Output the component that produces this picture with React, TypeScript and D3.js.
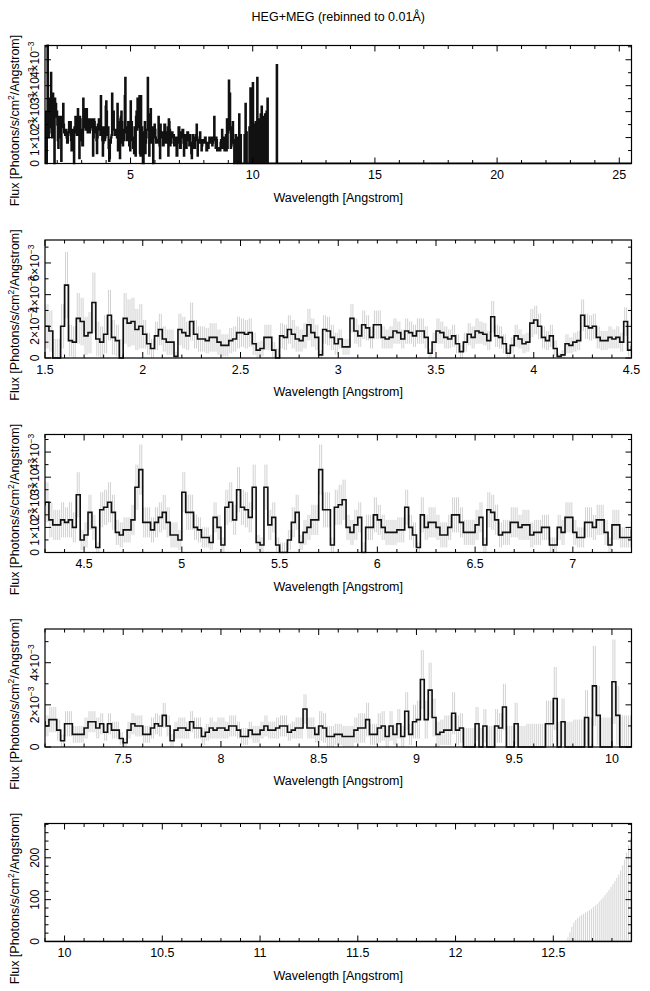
import React from "react";
import * as d3 from "d3";

// ---------------- data ----------------
const TITLE = "HEG+MEG (rebinned to 0.01Å)";
const X_TITLE = "Wavelength [Angstrom]";

const BIN_START = 1.5; // Å, left edge of first bin
const BIN_WIDTH = 0.02; // Å
const SUB_BINS = 2; // each 0.02 Å bin holds two 0.01 Å channels (error bars drawn per channel)
const FLUX_UNIT = 1e-4; // photons/s/cm²/Å per array unit

// flux per bin (units of 1e-4), 1.50 … 10.98 Å
const FLUX = [
  20, 17, 0, 0, 20, 46, 11, 10, 25, 23, 14, 16, 35, 12, 10, 15, 27, 13, 11, 0,
  25, 22, 23, 18, 20, 15, 9, 6, 14, 18, 12, 10, 10, 1, 18, 16, 14, 23, 15, 12,
  12, 11, 13, 13, 10, 8, 8, 11, 12, 16, 16, 15, 16, 9, 5, 6, 13, 13, 5, 0,
  14, 13, 18, 15, 12, 11, 14, 21, 16, 13, 2, 18, 17, 13, 9, 12, 7, 7, 25, 17,
  14, 21, 19, 13, 21, 21, 13, 12, 13, 17, 16, 12, 17, 16, 14, 17, 17, 13, 3, 10,
  17, 16, 13, 12, 14, 9, 4, 10, 15, 13, 17, 16, 15, 11, 26, 14, 13, 9, 3, 8,
  14, 12, 9, 10, 22, 24, 20, 13, 11, 14, 6, 1, 2, 9, 8, 10, 11, 27, 20, 19,
  20, 13, 11, 11, 13, 12, 13, 10, 23, 5, 7, 16, 10, 2, 17, 18, 20, 16, 8, 7,
  9, 9, 13, 26, 33, 12, 12, 9, 12, 14, 16, 12, 7, 7, 5, 24, 16, 16, 10, 9,
  6, 6, 4, 14, 10, 3, 18, 20, 13, 25, 18, 17, 14, 26, 4, 3, 26, 11, 14, 3,
  0, 0, 5, 12, 16, 4, 8, 10, 13, 13, 33, 17, 17, 3, 18, 19, 21, 10, 8, 11,
  14, 0, 10, 10, 15, 13, 10, 8, 8, 8, 9, 9, 18, 10, 7, 2, 15, 10, 12, 12,
  10, 7, 7, 10, 15, 15, 12, 8, 8, 8, 11, 14, 3, 17, 16, 13, 7, 8, 8, 12,
  12, 10, 11, 11, 7, 8, 8, 10, 10, 3, 3, 10, 8, 14, 14, 8, 6, 6, 12, 12,
  10, 13, 13, 8, 3, 11, 11, 6, 6, 6, 9, 12, 12, 9, 11, 7, 11, 8, 8, 4,
  2, 8, 11, 10, 10, 6, 6, 9, 11, 10, 15, 10, 3, 8, 9, 9, 8, 12, 9, 9,
  5, 7, 9, 8, 9, 9, 8, 10, 10, 8, 5, 5, 8, 6, 6, 8, 10, 8, 8, 9,
  10, 10, 7, 8, 9, 9, 18, 9, 9, 6, 10, 9, 5, 5, 6, 6, 5, 5, 5, 8,
  9, 9, 13, 6, 6, 9, 10, 5, 10, 6, 11, 5, 17, 6, 12, 13, 32, 13, 27, 14,
  6, 7, 8, 8, 16, 8, 9, 0, 0, 0, 11, 0, 10, 0, 0, 10, 9, 19, 0, 0,
  11, 0, 0, 0, 0, 0, 0, 0, 11, 11, 23, 0, 12, 0, 0, 0, 0, 0, 14, 0,
  29, 15, 0, 0, 0, 31, 15, 0, 0, 0, 0, 16, 0, 0, 33, 16, 0, 0, 17, 0,
  0, 19, 0, 22, 0, 0, 18, 0, 0, 0, 19, 0, 0, 20, 0, 25, 0, 0, 0, 0,
  0, 0, 0, 0, 0, 0, 0, 0, 0, 0, 0, 0, 0, 0, 38,
];

// 1-sigma error per bin (units of 1e-4)
const FLUX_ERR = [
  14, 13, 12, 12, 14, 21, 10, 10, 16, 15, 12, 13, 19, 11, 10, 12, 16, 11, 10, 12,
  16, 15, 15, 13, 14, 9, 7, 6, 9, 10, 8, 8, 8, 3, 10, 10, 9, 12, 9, 8,
  8, 8, 9, 9, 8, 7, 7, 8, 8, 10, 9, 9, 9, 7, 5, 5, 8, 8, 5, 6,
  8, 8, 9, 9, 8, 7, 8, 10, 9, 8, 3, 9, 9, 8, 7, 6, 5, 5, 9, 8,
  7, 9, 8, 7, 9, 9, 7, 6, 7, 8, 7, 6, 8, 7, 7, 8, 8, 7, 3, 6,
  8, 7, 7, 6, 7, 6, 4, 6, 7, 7, 8, 7, 7, 6, 10, 7, 7, 6, 3, 5,
  7, 6, 6, 6, 9, 9, 8, 7, 6, 7, 5, 2, 3, 6, 5, 6, 6, 10, 8, 8,
  8, 7, 6, 6, 7, 6, 7, 6, 9, 4, 5, 7, 5, 2, 7, 7, 8, 7, 5, 5,
  5, 5, 6, 9, 10, 6, 6, 5, 6, 6, 7, 6, 5, 5, 4, 8, 7, 7, 5, 5,
  4, 4, 3, 6, 5, 3, 7, 8, 6, 9, 7, 7, 6, 9, 3, 3, 9, 6, 6, 3,
  4, 4, 4, 6, 7, 3, 5, 5, 6, 6, 10, 7, 7, 3, 7, 8, 8, 5, 5, 6,
  6, 4, 5, 5, 7, 6, 5, 5, 5, 5, 5, 5, 7, 5, 5, 2, 7, 5, 6, 6,
  5, 5, 5, 5, 7, 7, 6, 5, 5, 5, 6, 6, 3, 7, 7, 6, 5, 5, 5, 6,
  6, 5, 6, 6, 5, 5, 5, 5, 5, 3, 3, 5, 5, 6, 6, 5, 4, 4, 6, 6,
  5, 6, 6, 5, 3, 6, 6, 4, 4, 4, 5, 5, 5, 5, 5, 4, 5, 4, 4, 3,
  2, 4, 5, 5, 5, 4, 4, 5, 5, 5, 6, 5, 3, 4, 5, 5, 4, 5, 5, 5,
  4, 4, 5, 4, 5, 5, 4, 5, 5, 4, 4, 4, 4, 4, 4, 4, 5, 4, 4, 5,
  5, 5, 4, 4, 5, 5, 7, 5, 5, 4, 7, 7, 5, 5, 5, 5, 5, 5, 5, 6,
  7, 7, 8, 5, 5, 7, 7, 5, 7, 5, 7, 5, 9, 5, 8, 9, 14, 9, 13, 9,
  6, 6, 7, 7, 10, 7, 7, 9, 9, 9, 8, 9, 8, 10, 10, 8, 7, 11, 10, 10,
  10, 10, 10, 11, 11, 11, 11, 11, 11, 11, 15, 12, 11, 12, 12, 13, 13, 13, 13, 14,
  19, 14, 14, 14, 14, 20, 14, 15, 15, 15, 15, 15, 15, 15, 21, 15, 15, 15, 15, 15,
  15, 16, 15, 17, 15, 15, 16, 15, 15, 15, 16, 15, 15, 17, 15, 18, 15, 15, 15, 15,
  15, 15, 15, 15, 15, 15, 15, 15, 15, 15, 15, 15, 15, 15, 22,
];

const ZERO_FLUX_END = 25.5; // flux is zero from the last bin to here
// long-wavelength channels (zero flux) with very large errors, photons/s/cm²/Å
const TAIL_ERR_START = 12.56;
const TAIL_BIN_WIDTH = 0.01;
const TAIL_ERR = [
  3, 10, 22, 35, 45, 52, 56, 60, 63, 66, 69, 72, 75, 78, 82, 86, 90,
  95, 100, 105, 111, 117, 123, 130, 137, 144, 152, 160, 170, 182, 196, 212, 230, 248,
];

// panel settings
const PANEL_X_DOMAINS = [
  [1.5, 25.5],
  [1.5, 4.5],
  [4.3, 7.3],
  [7.1, 10.1],
  [9.9, 12.9],
];
const PANEL_Y_MAX = [4.55e-3, 7.45e-3, 4.7e-3, 5.6e-3, 282];
const PANEL_X_MINOR = [1, 0.1, 0.1, 0.1, 0.1];
const PANEL_X_MAJOR = [5, 0.5, 0.5, 0.5, 0.5];
const PANEL_Y_MINOR = [0.5e-3, 1e-3, 0.5e-3, 1e-3, 20];
const PANEL_Y_MAJOR = [1e-3, 2e-3, 1e-3, 2e-3, 100];
const PANEL_Y_SCI = [true, true, true, true, false];
const PANEL_SHOW_ERR = [false, true, true, true, true];

// ---------------- layout ----------------
const W = 650;
const H = 991;
const LEFT = 45;
const RIGHT = 631.5;
const TOP0 = 45.5;
const STEP = 194.5;
const PH = 118;
const FONT = "'Liberation Sans', Arial, Helvetica, sans-serif";
const MAJOR_LEN = 6;
const MINOR_LEN = 3.5;

function stepTicks(d0: number, d1: number, step: number): number[] {
  const k0 = Math.ceil(d0 / step - 1e-6);
  const k1 = Math.floor(d1 / step + 1e-6);
  return d3.range(k0, k1 + 1).map((k) => +(k * step).toPrecision(12));
}
const isMajor = (v: number, m: number) => Math.abs(v / m - Math.round(v / m)) < 1e-6;

export default function App() {
  const hist = FLUX.map((f, i) => ({ x: BIN_START + i * BIN_WIDTH, y: f * FLUX_UNIT }));
  hist.push({ x: BIN_START + FLUX.length * BIN_WIDTH, y: 0 });
  hist.push({ x: ZERO_FLUX_END, y: 0 });

  const errs: { x: number; lo: number; hi: number }[] = [];
  FLUX.forEach((f, i) => {
    for (let s = 0; s < SUB_BINS; s++) {
      errs.push({
        x: BIN_START + (i + (s + 0.5) / SUB_BINS) * BIN_WIDTH,
        lo: Math.max(0, f - FLUX_ERR[i]) * FLUX_UNIT,
        hi: (f + FLUX_ERR[i]) * FLUX_UNIT,
      });
    }
  });
  TAIL_ERR.forEach((e, k) =>
    errs.push({ x: TAIL_ERR_START + (k + 0.5) * TAIL_BIN_WIDTH, lo: 0, hi: e })
  );

  const cx = (LEFT + RIGHT) / 2;

  return (
    <svg
      width={W}
      height={H}
      viewBox={`0 0 ${W} ${H}`}
      style={{ position: "absolute", left: 0, top: 0, background: "#fff", display: "block" }}
      fontFamily={FONT}
    >
      <rect x={0} y={0} width={W} height={H} fill="#fff" />
      <text x={cx} y={21} textAnchor="middle" fontSize={12.5} fill="#000">
        {TITLE}
      </text>
      {PANEL_X_DOMAINS.map((dom, p) => {
        const top = TOP0 + p * STEP;
        const bottom = top + PH;
        const xs = d3.scaleLinear().domain(dom).range([LEFT, RIGHT]);
        const ys = d3.scaleLinear().domain([0, PANEL_Y_MAX[p]]).range([bottom, top]);
        const line = d3
          .line<{ x: number; y: number }>()
          .x((d) => xs(d.x))
          .y((d) => ys(d.y))
          .curve(d3.curveStepAfter);
        const xt = stepTicks(dom[0], dom[1], PANEL_X_MINOR[p]);
        const yt = stepTicks(0, PANEL_Y_MAX[p], PANEL_Y_MINOR[p]);
        const clipId = `clip${p}`;
        const visErr = PANEL_SHOW_ERR[p]
          ? errs.filter((e) => e.x >= dom[0] && e.x <= dom[1])
          : [];
        const midY = (top + bottom) / 2 + 16;
        return (
          <g key={p}>
            <defs>
              <clipPath id={clipId}>
                <rect x={LEFT} y={top - 1} width={RIGHT - LEFT} height={PH + 2} />
              </clipPath>
            </defs>
            <g clipPath={`url(#${clipId})`}>
              {visErr.map((e, i) => (
                <line
                  key={i}
                  x1={xs(e.x)}
                  x2={xs(e.x)}
                  y1={ys(e.lo)}
                  y2={ys(e.hi)}
                  stroke="#c6c6c6"
                  strokeWidth={0.8}
                />
              ))}
              <path
                d={line(hist) || ""}
                fill="none"
                stroke="#111"
                strokeWidth={p === 0 ? 2.1 : 1.6}
              />
            </g>
            <rect
              x={LEFT}
              y={top}
              width={RIGHT - LEFT}
              height={PH}
              fill="none"
              stroke="#000"
              strokeWidth={1.2}
            />
            {xt.map((v) => {
              const x = xs(v);
              const len = isMajor(v, PANEL_X_MAJOR[p]) ? MAJOR_LEN : MINOR_LEN;
              return (
                <g key={`x${v}`}>
                  <line x1={x} x2={x} y1={bottom} y2={bottom - len} stroke="#000" strokeWidth={1} />
                  <line x1={x} x2={x} y1={top} y2={top + len} stroke="#000" strokeWidth={1} />
                </g>
              );
            })}
            {xt
              .filter((v) => isMajor(v, PANEL_X_MAJOR[p]))
              .map((v) => (
                <text
                  key={`xl${v}`}
                  x={xs(v)}
                  y={bottom + 15.5}
                  textAnchor="middle"
                  fontSize={12.5}
                  fill="#000"
                >
                  {String(v)}
                </text>
              ))}
            {yt.map((v) => {
              const y = ys(v);
              const len = isMajor(v, PANEL_Y_MAJOR[p]) ? MAJOR_LEN : MINOR_LEN;
              return (
                <g key={`y${v}`}>
                  <line x1={LEFT} x2={LEFT + len} y1={y} y2={y} stroke="#000" strokeWidth={1} />
                  <line x1={RIGHT} x2={RIGHT - len} y1={y} y2={y} stroke="#000" strokeWidth={1} />
                </g>
              );
            })}
            {yt
              .filter((v) => isMajor(v, PANEL_Y_MAJOR[p]))
              .map((v) => {
                const y = ys(v);
                const m = Math.round(v / 1e-3);
                return (
                  <text
                    key={`yl${v}`}
                    transform={`translate(38.5,${y}) rotate(-90)`}
                    textAnchor="middle"
                    fontSize={12}
                    fill="#000"
                  >
                    {v === 0 || !PANEL_Y_SCI[p] ? (
                      String(v)
                    ) : (
                      <>
                        {`${m}×10`}
                        <tspan dy={-4.5} fontSize={8.5}>
                          −3
                        </tspan>
                      </>
                    )}
                  </text>
                );
              })}
            <text x={cx} y={bottom + 38} textAnchor="middle" fontSize={12.5} fill="#000">
              {X_TITLE}
            </text>
            <text
              transform={`translate(18.5,${midY}) rotate(-90)`}
              textAnchor="middle"
              fontSize={12.5}
              fill="#000"
            >
              Flux [Photons/s/cm
              <tspan dy={-4.5} fontSize={8.5}>
                2
              </tspan>
              <tspan dy={4.5}>/Angstrom]</tspan>
            </text>
          </g>
        );
      })}
    </svg>
  );
}
